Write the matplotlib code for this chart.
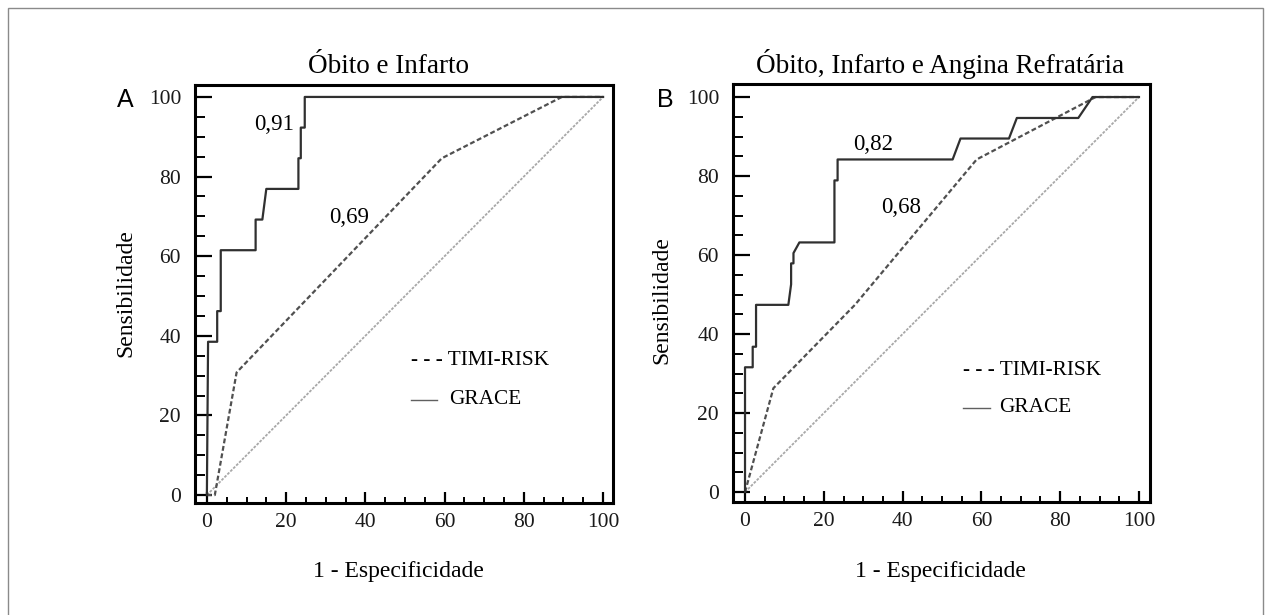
import matplotlib
matplotlib.use("Agg")
import matplotlib.pyplot as plt
from matplotlib.patches import Rectangle
from matplotlib.ticker import MultipleLocator

W, H = 1269, 615

# ---------------- data ----------------
titles = ["Óbito e Infarto", "Óbito, Infarto e Angina Refratária"]
panel_letters = ["A", "B"]
series_names = ["TIMI-RISK", "GRACE"]

grace_a_x = [0, 0.3, 2.6, 2.6, 3.5, 3.5, 12.3, 12.3, 14, 15, 23.1, 23.1, 23.7, 23.7, 24.7, 24.7, 100]
grace_a_y = [0, 38.5, 38.5, 46.2, 46.2, 61.5, 61.5, 69.2, 69.2, 76.9, 76.9, 84.6, 84.6, 92.3, 92.3, 100, 100]
timi_a_x = [0, 2, 7.5, 59.3, 89.6, 100]
timi_a_y = [0, 0, 30.8, 84.6, 100, 100]
auc_a = ["0,91", "0,69"]

grace_b_x = [0, 0, 1.95, 1.95, 2.8, 2.8, 11, 11.7, 11.7, 12.3, 12.3, 13.8, 22.7, 22.7, 23.5, 23.5,
             52.7, 54.7, 67, 69, 84.6, 88.2, 100]
grace_b_y = [0, 31.6, 31.6, 36.8, 36.8, 47.4, 47.4, 52.6, 57.9, 57.9, 60.5, 63.2, 63.2, 78.9, 78.9, 84.2,
             84.2, 89.5, 89.5, 94.7, 94.7, 100, 100]
timi_b_x = [0, 7.2, 27.9, 58.8, 89, 100]
timi_b_y = [0, 26.3, 47.4, 84.2, 100, 100]
auc_b = ["0,82", "0,68"]

ref_x = [0, 100]
ref_y = [0, 100]
ticks = [0, 20, 40, 60, 80, 100]

# ---------------- layout ----------------
def fx(px):
    return px / W

def fy(py):
    return 1 - py / H

fig = plt.figure(figsize=(W / 100, H / 100), dpi=100)
fig.patch.set_facecolor("white")

serif = "Liberation Serif"

panels = [
    dict(box=(195, 85, 613, 503), xlim=(-3.0, 102.5), ylim=(-2.0, 103.0),
         gx=grace_a_x, gy=grace_a_y, tx=timi_a_x, ty=timi_a_y, auc=auc_a,
         auc_pos=[(16.9, 93.0), (35.8, 69.6)],
         leg_x=51.5, leg_line=(51.5, 58.1), leg_text_x=61.1, leg_y=(33.9, 23.9),
         title_x=388, xlabel_x=398, ylabel=(126, 293), letter=(125, 100)),
    dict(box=(733, 84, 1150, 502), xlim=(-3.05, 102.8), ylim=(-2.5, 103.3),
         gx=grace_b_x, gy=grace_b_y, tx=timi_b_x, ty=timi_b_y, auc=auc_b,
         auc_pos=[(32.5, 88.0), (39.6, 72.0)],
         leg_x=55.3, leg_line=(55.3, 62.2), leg_text_x=64.5, leg_y=(30.9, 21.3),
         title_x=940, xlabel_x=940, ylabel=(662, 300), letter=(665, 100)),
]

for i, p in enumerate(panels):
    l, t, r, b = p["box"]
    ax = fig.add_axes([fx(l), fy(b), fx(r) - fx(l), fy(t) - fy(b)])
    ax.set_xlim(*p["xlim"])
    ax.set_ylim(*p["ylim"])
    for s in ax.spines.values():
        s.set_linewidth(2.2)
        s.set_color("black")

    ax.plot(ref_x, ref_y, color="#a8a8a8", lw=1.3, linestyle=(0, (1.5, 0.8)), zorder=1)
    ax.plot(p["tx"], p["ty"], color="#505050", lw=1.6, linestyle=(0, (2.2, 1.2)), zorder=2)
    ax.plot(p["gx"], p["gy"], color="#303030", lw=1.6, zorder=3)

    ax.set_xticks(ticks)
    ax.set_yticks(ticks)
    ax.xaxis.set_minor_locator(MultipleLocator(5))
    ax.yaxis.set_minor_locator(MultipleLocator(5))
    ax.tick_params(axis="x", which="major", direction="in", length=8, width=1.6, pad=7)
    ax.tick_params(axis="x", which="minor", direction="in", length=4, width=1.4)
    ax.tick_params(axis="y", which="major", direction="in", length=12, width=1.6, pad=10)
    ax.tick_params(axis="y", which="minor", direction="in", length=7, width=1.4)
    for lab in ax.get_xticklabels() + ax.get_yticklabels():
        lab.set_fontfamily(serif)
        lab.set_fontsize(15.5)
        lab.set_color("#1a1a1a")

    # AUC labels
    for txt, (x, y) in zip(p["auc"], p["auc_pos"]):
        ax.text(x, y, txt, ha="center", va="center", fontsize=16.5, family=serif, color="black")

    # legend
    ax.text(p["leg_x"], p["leg_y"][0], "- - - " + series_names[0], ha="left", va="center",
            fontsize=15.3, family=serif, color="black")
    ax.plot(p["leg_line"], [p["leg_y"][1]] * 2, color="#606060", lw=1.0)
    ax.text(p["leg_text_x"], p["leg_y"][1], series_names[1], ha="left", va="center",
            fontsize=15.3, family=serif, color="black")

    # titles, labels
    fig.text(fx(p["title_x"]), fy(73), titles[i], ha="center", va="baseline",
             fontsize=19.5, family=serif)
    fig.text(fx(p["xlabel_x"]), fy(577), "1 - Especificidade", ha="center", va="baseline",
             fontsize=17, family=serif)
    fig.text(fx(p["ylabel"][0]), fy(p["ylabel"][1]), "Sensibilidade", ha="center", va="center",
             rotation=90, fontsize=17, family=serif)
    fig.text(fx(p["letter"][0]), fy(p["letter"][1]), panel_letters[i], ha="center", va="center",
             fontsize=18, family="Liberation Sans")

# outer border
fig.patches.append(Rectangle((fx(8), -0.02), fx(1263) - fx(8), fy(8) + 0.02,
                             transform=fig.transFigure, fill=False, edgecolor="#8a8a8a",
                             lw=1.0, clip_on=False))

fig.savefig("out.png", dpi=100)
